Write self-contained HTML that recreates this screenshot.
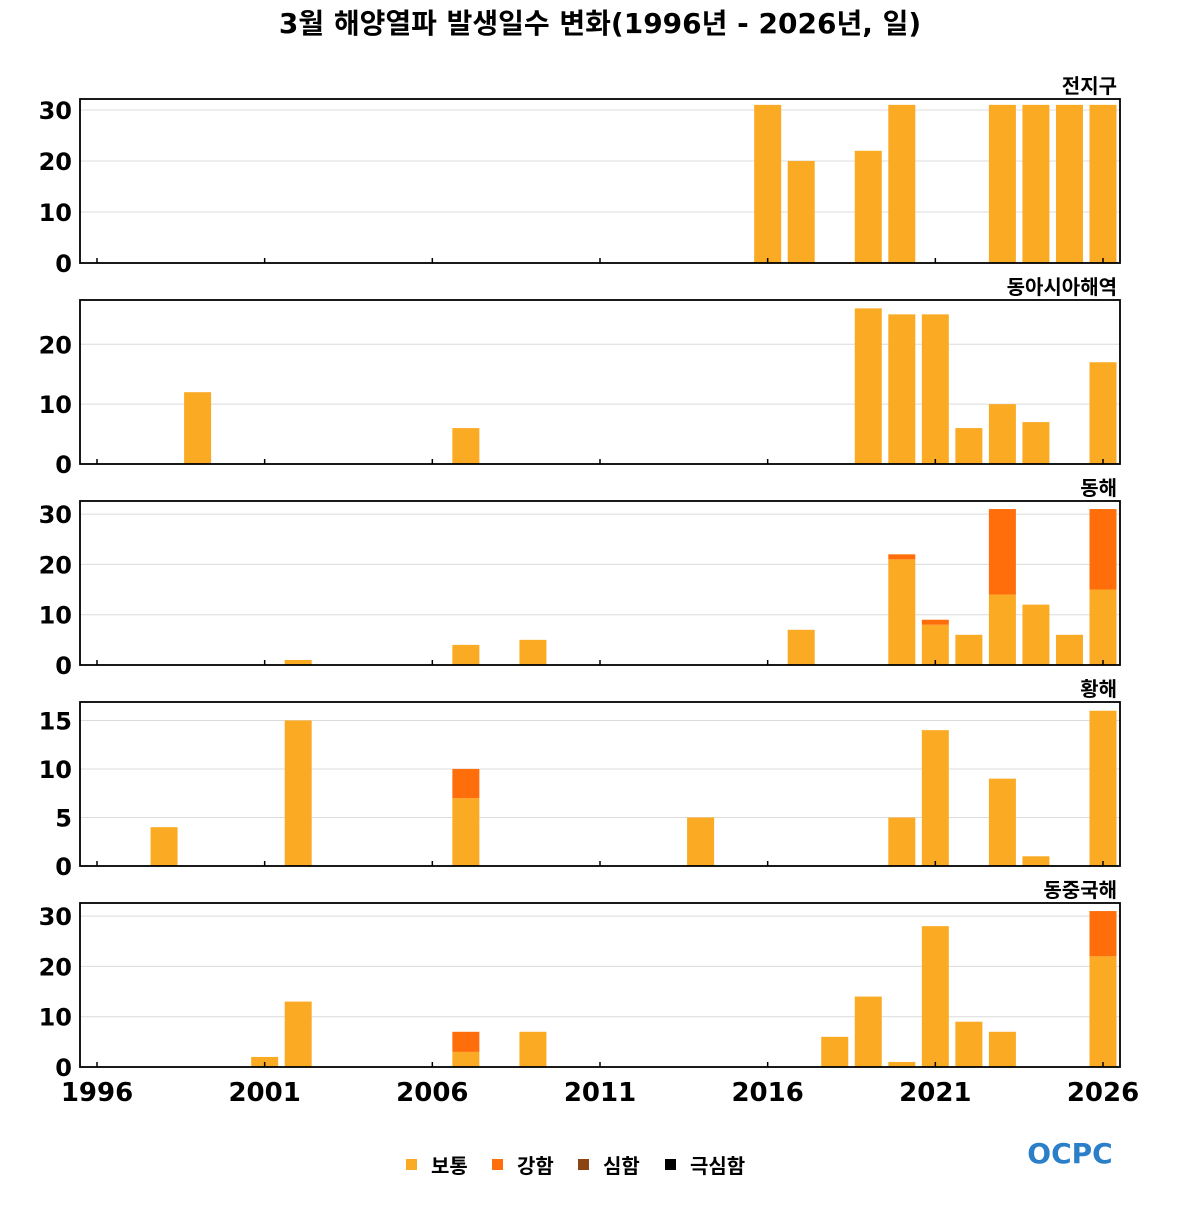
<!DOCTYPE html>
<html><head><meta charset="utf-8"><style>
body{margin:0;background:#fff;}
svg text{font-family:"DejaVu Sans","Noto Sans CJK KR",sans-serif;}
</style></head><body>
<svg id="c" width="1200" height="1200" xmlns="http://www.w3.org/2000/svg">
<text x="600" y="33" text-anchor="middle" font-size="28" font-weight="bold">3월 해양열파 발생일수 변화(1996년 - 2026년, 일)</text>
</svg>
<script>
const panelNames=["전지구","동아시아해역","동해","황해","동중국해"];
const panelYMax=[32.15,27.4,32.6,16.9,32.6];
const panelTicks=[[0,10,20,30],[0,10,20],[0,10,20,30],[0,5,10,15],[0,10,20,30]];
const years1=[2016,2017,2019,2020,2023,2024,2025,2026];
const mod1=[31,20,22,31,31,31,31,31];
const str1=[0,0,0,0,0,0,0,0];
const years2=[1999,2007,2019,2020,2021,2022,2023,2024,2026];
const mod2=[12,6,26,25,25,6,10,7,17];
const str2=[0,0,0,0,0,0,0,0,0];
const years3=[2002,2007,2009,2017,2020,2021,2022,2023,2024,2025,2026];
const mod3=[1,4,5,7,21,8,6,14,12,6,15];
const str3=[0,0,0,0,1,1,0,17,0,0,16];
const years4=[1998,2002,2007,2014,2020,2021,2023,2024,2026];
const mod4=[4,15,7,5,5,14,9,1,16];
const str4=[0,0,3,0,0,0,0,0,0];
const years5=[2001,2002,2007,2009,2018,2019,2020,2021,2022,2023,2026];
const mod5=[2,13,3,7,6,14,1,28,9,7,22];
const str5=[0,0,4,0,0,0,0,0,0,0,9];
const xTicks=[1996,2001,2006,2011,2016,2021,2026];
const legendLabels=["보통","강함","심함","극심함"];
const legendColors=["#FBAA24","#FF6E0A","#8B4513","#000000"];

const NS="http://www.w3.org/2000/svg";
const svg=document.getElementById('c');
function mk(t,a,p){const e=document.createElementNS(NS,t);for(const k in a)e.setAttribute(k,a[k]);(p||svg).appendChild(e);return e;}
const X0=80,X1=1120;
function xs(y){return 97+(y-1996)*(1006/30);}
const tops=[99,300,501,702,903],H=164;
const years=[years1,years2,years3,years4,years5],mods=[mod1,mod2,mod3,mod4,mod5],strs=[str1,str2,str3,str4,str5];
for(let p=0;p<5;p++){
  const top=tops[p],bot=top+H,ymax=panelYMax[p];
  const ys=v=>bot-v/ymax*H;
  const g=mk('g',{});
  
  
  panelTicks[p].forEach(t=>{
    if(t>0){const l=mk('line',{x1:X0,x2:X1,y1:ys(t),y2:ys(t),stroke:'#dcdcdc','stroke-width':1},g);
      }
    const tx=mk('text',{x:72,y:ys(t)+9,'text-anchor':'end','font-size':24,'font-weight':'bold'},g);
    tx.textContent=t;
    
  });
  years[p].forEach((yr,i)=>{
    const m=mods[p][i],s=strs[p][i],bw=27,x=xs(yr)-bw/2;
    const r=mk('rect',{x:x,y:ys(m),width:bw,height:ys(0)-ys(m),fill:legendColors[0]},g);
    
    if(s>0){const r2=mk('rect',{x:x,y:ys(m+s),width:bw,height:ys(m)-ys(m+s),fill:legendColors[1]},g);
      }
  });
  xTicks.forEach(t=>{const l=mk('line',{x1:xs(t),x2:xs(t),y1:bot,y2:bot-5,stroke:'#000','stroke-width':1.5},g);
    });
  const fr=mk('rect',{x:X0,y:top,width:X1-X0,height:H,fill:'none',stroke:'#000','stroke-width':1.8},g);
  
  const tt=mk('text',{x:1117,y:top-6,'text-anchor':'end','font-size':20,'font-weight':'bold'},g);
  tt.textContent=panelNames[p];
  
}
xTicks.forEach(t=>{const tx=mk('text',{x:xs(t),y:1101,'text-anchor':'middle','font-size':26,'font-weight':'bold'});
  tx.textContent=t;});
const lx=[406,492,578,665];
legendLabels.forEach((l,i)=>{
  const r=mk('rect',{x:lx[i],y:1159,width:11,height:11,fill:legendColors[i]});
  
  const tx=mk('text',{x:lx[i]+25,y:1173,'font-size':20,'font-weight':'bold'});
  tx.textContent=l;
});
const logo=mk('text',{x:1070,y:1163,'text-anchor':'middle','font-size':28,'font-weight':'bold',fill:'#2a7fc8'});
logo.textContent='OCPC';
</script>
</body></html>
